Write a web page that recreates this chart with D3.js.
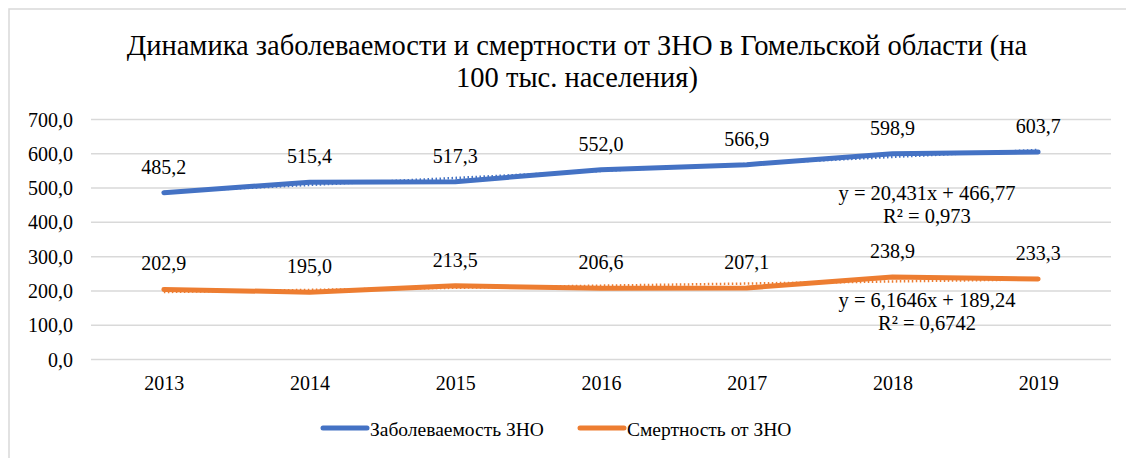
<!DOCTYPE html>
<html><head><meta charset="utf-8">
<script src="https://cdn.jsdelivr.net/npm/d3@7"></script>
<style>body{margin:0;background:#fff}svg{display:block}text{font-family:"Liberation Serif","Times New Roman",serif;fill:#000}</style>
</head><body>
<svg id="c" width="1126" height="458"></svg>
<script>
const years = ["2013","2014","2015","2016","2017","2018","2019"];
const incidence = [485.2, 515.4, 517.3, 552.0, 566.9, 598.9, 603.7];
const mortality = [202.9, 195.0, 213.5, 206.6, 207.1, 238.9, 233.3];
const yTicks = [0,100,200,300,400,500,600,700];
const trendInc = {slope:20.431, intercept:466.77, eq:"y = 20,431x + 466,77", r2:"R² = 0,973"};
const trendMor = {slope:6.1646, intercept:189.24, eq:"y = 6,1646x + 189,24", r2:"R² = 0,6742"};
const seriesNames = ["Заболеваемость ЗНО","Смертность от ЗНО"];
const titleLines = ["Динамика заболеваемости и смертности от ЗНО в Гомельской области (на","100 тыс. населения)"];

const svg = d3.select("#c");
const colors = ["#4472C4","#ED7D31"];
const fmt = v => d3.format(".1f")(v).replace(".", ",");
const FS = "20px";
const FSL = "19.5px";

// frame
svg.append("rect").attr("x",9).attr("y",9).attr("width",1200).attr("height",500)
  .attr("fill","none").attr("stroke","#d9d9d9").attr("stroke-width",1.5);

const x = d3.scalePoint().domain(years).range([91,1111]).padding(0.5);
const y = d3.scaleLinear().domain([0,700]).range([359,119]);

// title
svg.append("g").selectAll("text").data(titleLines).join("text")
  .attr("x",577).attr("y",(d,i)=>45+i*32).attr("text-anchor","middle")
  .attr("dominant-baseline","central").style("font-size","28.5px").text(d=>d);

// grid
const yAxis = svg.append("g").attr("transform","translate(91,0)")
  .call(d3.axisLeft(y).tickValues(yTicks).tickSize(-1020).tickFormat(fmt));
yAxis.select(".domain").remove();
yAxis.selectAll("line").attr("stroke","#d9d9d9").attr("stroke-width",1.5);
yAxis.selectAll("text").attr("x",-18).attr("dy",null).attr("dominant-baseline","central")
  .style("font-size",FS).attr("fill","#000");

const xAxis = svg.append("g").attr("transform","translate(0,359)")
  .call(d3.axisBottom(x).tickSize(0));
xAxis.select(".domain").remove();
xAxis.selectAll("text").attr("dy",null).attr("dominant-baseline","central").attr("y",24).style("font-size",FS);

const line = d3.line().x((d,i)=>x(years[i])).y(d=>y(d));
const series = [incidence, mortality];
const trends = [trendInc, trendMor];

// trendlines
trends.forEach((t,k)=>{
  const pts = years.map((yr,i)=>t.slope*(i+1)+t.intercept);
  svg.append("path").attr("d",line(pts)).attr("fill","none")
    .attr("stroke",colors[k]).attr("stroke-width",2.5).attr("stroke-dasharray","1.5,2.5");
});

series.forEach((s,k)=>{
  svg.append("path").attr("d",line(s)).attr("fill","none")
    .attr("stroke",colors[k]).attr("stroke-width",5).attr("stroke-linejoin","round").attr("stroke-linecap","round");
  svg.append("g").selectAll("text").data(s).join("text")
    .attr("x",(d,i)=>x(years[i])).attr("y",d=>y(d)-26).attr("text-anchor","middle")
    .attr("dominant-baseline","central").style("font-size",FS).text(fmt);
});

// trend labels
const eqY = [[193,216],[300,323]];
trends.forEach((t,k)=>{
  svg.append("text").attr("x",927).attr("y",eqY[k][0]).attr("text-anchor","middle")
    .attr("dominant-baseline","central").style("font-size","20.5px").text(t.eq);
  svg.append("text").attr("x",927).attr("y",eqY[k][1]).attr("text-anchor","middle")
    .attr("dominant-baseline","central").style("font-size","20.5px").text(t.r2);
});

// legend
const legX = [323,580];
seriesNames.forEach((n,k)=>{
  svg.append("line").attr("x1",legX[k]).attr("x2",legX[k]+44).attr("y1",428).attr("y2",428)
    .attr("stroke",colors[k]).attr("stroke-width",5).attr("stroke-linecap","round");
  svg.append("text").attr("x",legX[k]+47).attr("y",429).attr("dominant-baseline","central")
    .style("font-size",FSL).text(n);
});
</script>
</body></html>
